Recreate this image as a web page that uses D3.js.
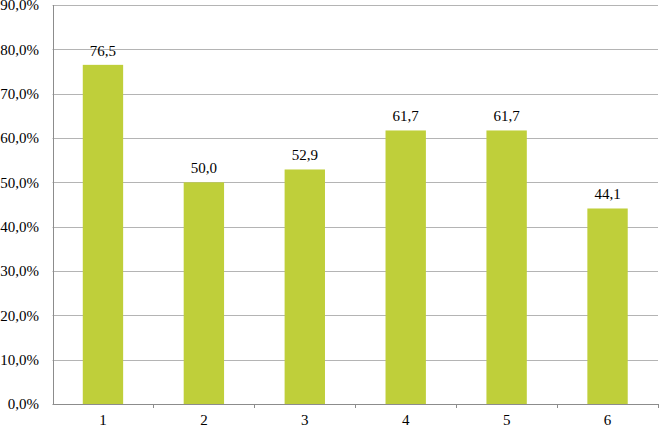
<!DOCTYPE html>
<html>
<head>
<meta charset="utf-8">
<script src="https://cdn.jsdelivr.net/npm/d3@7"></script>
<style>
  body { margin: 0; background: #fff; }
  text { font-family: "Liberation Serif", "Times New Roman", serif; font-size: 15px; fill: #000; }
</style>
</head>
<body>
<script>
var categories = ["1", "2", "3", "4", "5", "6"];
var values = [76.5, 50.0, 52.9, 61.7, 61.7, 44.1];
var yTicks = [0, 10, 20, 30, 40, 50, 60, 70, 80, 90];

var width = 659, height = 427;
var margin = { top: 5, right: 1, bottom: 23, left: 52.5 };

var svg = d3.select("body").append("svg")
    .attr("width", width)
    .attr("height", height);

var x = d3.scaleBand()
    .domain(categories)
    .range([margin.left, width - margin.right])
    .paddingInner(0.6)
    .paddingOuter(0.3);

var xb = d3.scaleBand()
    .domain(categories)
    .range([margin.left, width - margin.right]);

var y = d3.scaleLinear()
    .domain([0, 90])
    .range([height - margin.bottom, margin.top]);

var fmt = function (d) { return d3.format(".1f")(d).replace(".", ","); };

// gridlines
svg.append("g")
    .selectAll("line")
    .data(yTicks.slice(1))
    .enter().append("line")
    .attr("x1", margin.left)
    .attr("x2", width - margin.right)
    .attr("y1", function (d) { return Math.round(y(d)) + 0.5; })
    .attr("y2", function (d) { return Math.round(y(d)) + 0.5; })
    .attr("stroke", "#b4b4b4")
    .attr("stroke-width", 1);

// y axis labels
svg.append("g")
    .selectAll("text")
    .data(yTicks)
    .enter().append("text")
    .attr("x", 39)
    .attr("y", function (d) { return y(d); })
    .attr("dy", "0.35em")
    .attr("text-anchor", "end")
    .text(function (d) { return fmt(d) + "%"; });

// bars
svg.append("g")
    .selectAll("rect")
    .data(values)
    .enter().append("rect")
    .attr("x", function (d, i) { return x(categories[i]); })
    .attr("y", function (d) { return y(d); })
    .attr("width", x.bandwidth())
    .attr("height", function (d) { return y(0) - y(d); })
    .attr("fill", "#bfcf3a");

// value labels
svg.append("g")
    .selectAll("text")
    .data(values)
    .enter().append("text")
    .attr("x", function (d, i) { return x(categories[i]) + x.bandwidth() / 2; })
    .attr("y", function (d) { return y(d) - 9; })
    .attr("text-anchor", "middle")
    .text(function (d) { return fmt(d); });

// axes lines
svg.append("line")
    .attr("x1", Math.round(margin.left) + 0.5)
    .attr("x2", Math.round(margin.left) + 0.5)
    .attr("y1", margin.top)
    .attr("y2", y(0))
    .attr("stroke", "#8c8c8c");

svg.append("line")
    .attr("x1", margin.left)
    .attr("x2", width - margin.right)
    .attr("y1", Math.round(y(0)) + 0.5)
    .attr("y2", Math.round(y(0)) + 0.5)
    .attr("stroke", "#8c8c8c");

// x ticks at category boundaries
svg.append("g")
    .selectAll("line")
    .data(categories)
    .enter().append("line")
    .attr("x1", function (d) { return Math.round(xb(d) + xb.bandwidth()) + 0.5; })
    .attr("x2", function (d) { return Math.round(xb(d) + xb.bandwidth()) + 0.5; })
    .attr("y1", y(0))
    .attr("y2", y(0) + 4)
    .attr("stroke", "#8c8c8c");

// x labels
svg.append("g")
    .selectAll("text")
    .data(categories)
    .enter().append("text")
    .attr("x", function (d) { return xb(d) + xb.bandwidth() / 2; })
    .attr("y", 425)
    .attr("text-anchor", "middle")
    .text(function (d) { return d; });
</script>
</body>
</html>
